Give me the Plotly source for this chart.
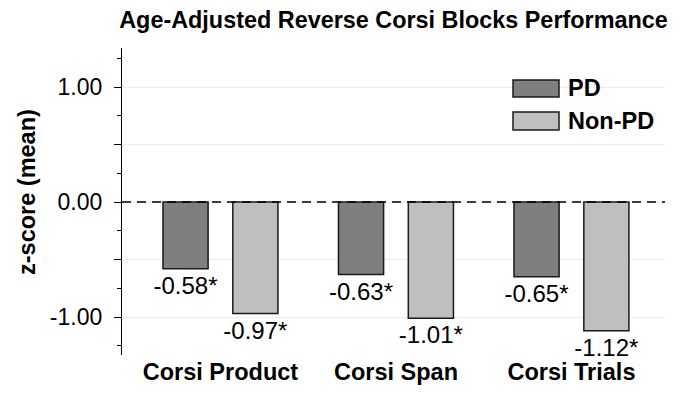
import plotly.graph_objects as go

categories = ["Corsi Product", "Corsi Span", "Corsi Trials"]
pd_values = [-0.58, -0.63, -0.65]
nonpd_values = [-0.97, -1.01, -1.12]
series_names = ["PD", "Non-PD"]
ytick_vals = [-1.0, -0.5, 0.5, 1.0]
ylabel_vals = [-1.0, -0.5, 0.0, 0.5, 1.0]
ylabel_text = ["-1.00", "", "0.00", "", "1.00"]
yminor_vals = [-1.25, -0.75, -0.25, 0.25, 0.75, 1.25]

FONT = "Liberation Sans, Arial, Helvetica, sans-serif"
PD_COLOR = "#7f7f7f"
NONPD_COLOR = "#bfbfbf"
EDGE = "#1a1a1a"
BOLD_SIZE = 23.5

fig = go.Figure()
fig.add_trace(go.Bar(
    x=categories, y=pd_values, name=series_names[0],
    marker=dict(color=PD_COLOR, line=dict(color=EDGE, width=1.5)),
    text=[f"{v:.2f}*" for v in pd_values], textposition="outside",
    textfont=dict(family=FONT, size=24, color="black"),
    constraintext="none", cliponaxis=False,
))
fig.add_trace(go.Bar(
    x=categories, y=nonpd_values, name=series_names[1],
    marker=dict(color=NONPD_COLOR, line=dict(color=EDGE, width=1.5)),
    text=[f"{v:.2f}*" for v in nonpd_values], textposition="outside",
    textfont=dict(family=FONT, size=24, color="black"),
    constraintext="none", cliponaxis=False,
))

L, R, T, B = 122, 15, 48, 45
W, H = 680, 400
pw, ph = W - L - R, H - T - B

def px2paper(x, y):
    return (x - L) / pw, (H - B - y) / ph

shapes = [
    dict(type="line", xref="paper", yref="y", x0=0, x1=1, y0=0, y1=0,
         line=dict(color="black", width=1.4, dash="9px,6px"), layer="above"),
]
annotations = []
legend_items = [(series_names[0], PD_COLOR, 80, 97), (series_names[1], NONPD_COLOR, 112, 130)]
for name, col, y0, y1 in legend_items:
    px0, py0 = px2paper(513, y1)
    px1, py1 = px2paper(559, y0)
    shapes.append(dict(type="rect", xref="paper", yref="paper", x0=px0, x1=px1, y0=py0, y1=py1,
                       fillcolor=col, line=dict(color=EDGE, width=1.5)))
    tx, ty = px2paper(566, (y0 + y1) / 2)
    annotations.append(dict(text=f"<b>{name}</b>", xref="paper", yref="paper", x=tx, y=ty,
                            xanchor="left", yanchor="middle", showarrow=False,
                            font=dict(family=FONT, size=BOLD_SIZE, color="black")))

ax, ay = px2paper(27, 192)
annotations.append(dict(text="<b>z-score (mean)</b>", xref="paper", yref="paper", x=ax, y=ay,
                        xanchor="center", yanchor="middle", textangle=-90, showarrow=False,
                        font=dict(family=FONT, size=BOLD_SIZE, color="black")))

fig.update_layout(
    width=W, height=H,
    margin=dict(l=L, r=R, t=T, b=B, pad=0),
    paper_bgcolor="white", plot_bgcolor="white",
    barmode="group", bargap=0.204, bargroupgap=0.354,
    showlegend=False,
    title=dict(text="<b>Age-Adjusted Reverse Corsi Blocks Performance</b>",
               x=0.5, xref="paper", xanchor="center", y=1 - 20 / H, yanchor="middle",
               font=dict(family=FONT, size=23.4, color="black")),
    xaxis=dict(type="category", range=[-0.561, 2.533], showline=False, ticks="",
               showgrid=False, zeroline=False,
               tickfont=dict(family=FONT, size=BOLD_SIZE, color="black"),
               tickprefix="<b>", ticksuffix="</b>"),
    yaxis=dict(range=[-1.33, 1.34], tickvals=ylabel_vals, ticktext=ylabel_text,
               ticks="outside", ticklen=7, tickwidth=1.2, tickcolor="black",
               ticklabelstandoff=7,
               showline=True, linecolor="black", linewidth=1.2,
               showgrid=True, gridcolor="#ececec", gridwidth=1, zeroline=False,
               tickfont=dict(family=FONT, size=23, color="black"),
               minor=dict(tickvals=yminor_vals, ticks="outside", ticklen=4,
                          tickcolor="black", tickwidth=1.2, showgrid=False)),
    shapes=shapes, annotations=annotations,
    font=dict(family=FONT, color="black"),
)

fig.write_html("out.html", config={"displayModeBar": False},
               post_script="document.body.style.margin='0';document.body.style.padding='0';")
